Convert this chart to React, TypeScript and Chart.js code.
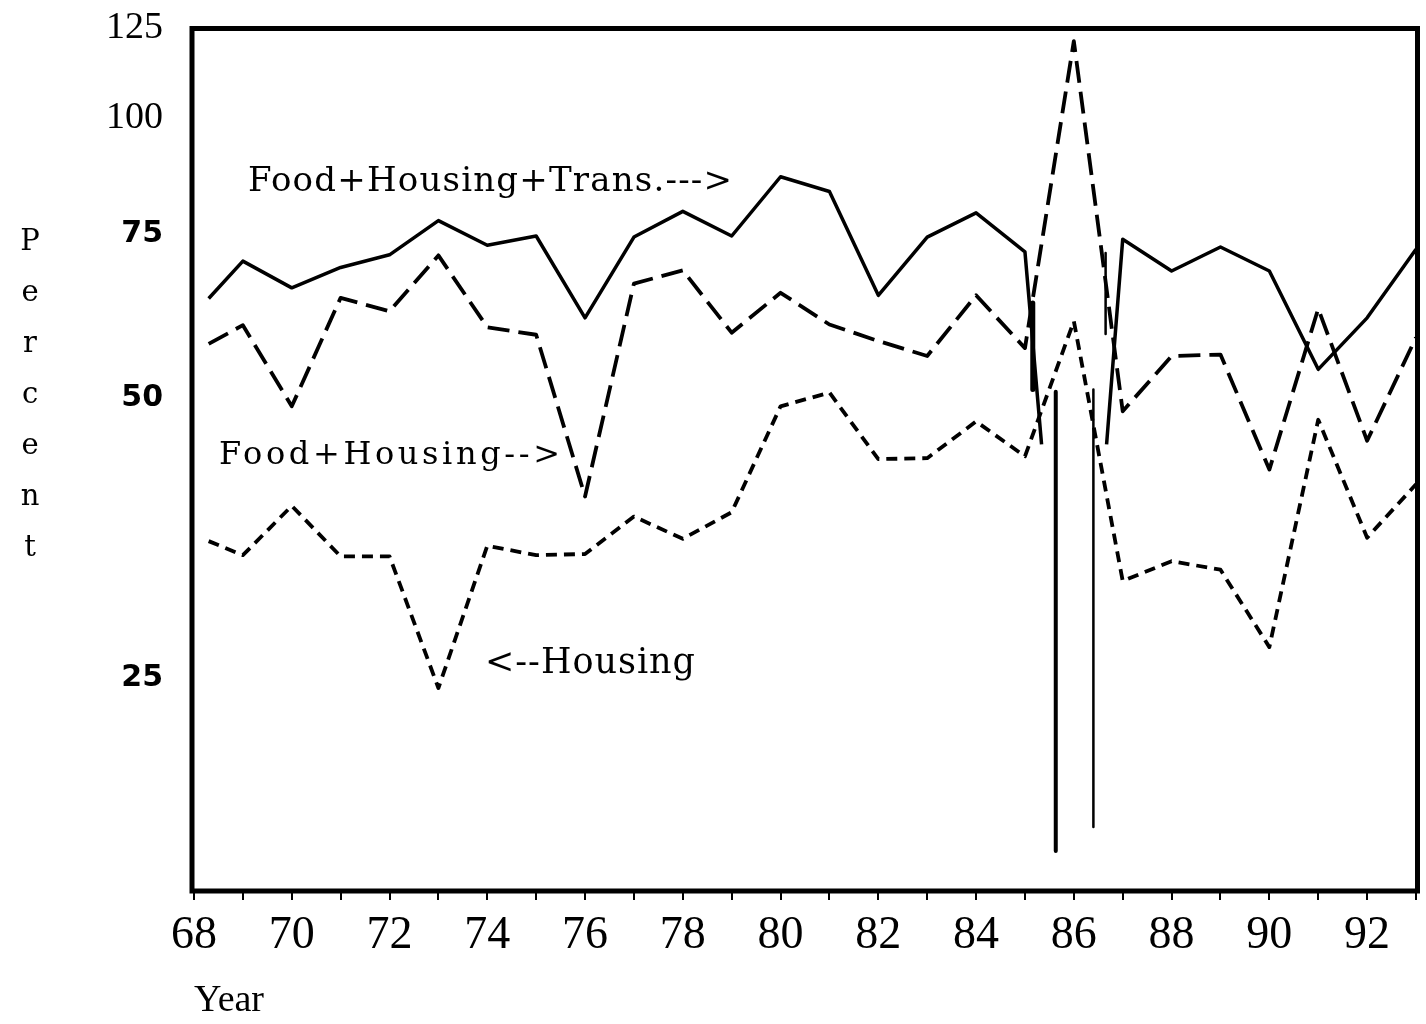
import { useEffect, useRef } from 'react';
import { Chart, registerables } from 'chart.js';

Chart.register(...registerables);

// ---- data ----
const totalYears = [68.3, 69, 70, 71, 72, 73, 74, 75, 76, 77, 78, 79, 80, 81, 82, 83, 84, 85, 85.34, 86, 86.67, 87, 88, 89, 90, 91, 92, 93];
const totalValues = [64.0, 70.2, 65.7, 69.1, 71.3, 77.6, 73.0, 74.7, 61.0, 74.5, 79.4, 74.7, 86.5, 83.4, 64.5, 74.5, 79.1, 71.8, 44.6, null, 44.6, 74.1, 68.5, 72.7, 68.5, 53.7, 61.0, 72.3];

const years = [68.3, 69, 70, 71, 72, 73, 74, 75, 76, 77, 78, 79, 80, 81, 82, 83, 84, 85, 86, 87, 88, 89, 90, 91, 92, 93];
const foodHousing = [57.2, 59.9, 49.0, 64.1, 62.0, 71.2, 59.6, 58.5, 39.2, 66.4, 68.6, 58.8, 64.9, 60.0, 57.6, 55.5, 64.5, 56.6, 121.0, 48.4, 55.5, 55.7, 41.9, 62.4, 45.0, 58.1];
const housing = [35.1, 33.9, 38.3, 33.8, 33.8, 24.4, 34.7, 33.9, 34.0, 37.3, 35.3, 37.7, 49.0, 50.7, 43.0, 43.1, 47.2, 43.3, 60.5, 31.8, 33.4, 32.7, 27.0, 47.4, 35.4, 40.4];

// stray vertical strokes around 1985-86 in the original plot
const glitchX = [85.16, 85.63, 86.40, 86.65];
const glitchTop = [63.3, 50.8, 51.1, 71.6];
const glitchBottom = [51.1, 16.3, 17.3, 58.6];

const xTickValues = [68, 69, 70, 71, 72, 73, 74, 75, 76, 77, 78, 79, 80, 81, 82, 83, 84, 85, 86, 87, 88, 89, 90, 91, 92, 93];
const xTickLabels = ['68', '70', '72', '74', '76', '78', '80', '82', '84', '86', '88', '90', '92'];
const yTickValues = [25, 50, 75, 100, 125];

const seriesLabels = ['Food+Housing+Trans.--->', 'Food+Housing-->', '<--Housing'];
const yTitle = 'Percent';
const xTitle = 'Year';

// ---- styles ----
const glitchWidths = [5, 4, 2.5, 2.5];

const pts = (xs: number[], ys: (number | null)[]) => xs.map((x, i) => ({ x, y: ys[i] }));

const decorPlugin = {
  id: 'decor',
  beforeDatasetsDraw(chart: any) {
    const { ctx, chartArea: ca } = chart;
    ctx.save();
    ctx.strokeStyle = '#000';
    ctx.lineWidth = 5;
    ctx.lineCap = 'square';
    ctx.beginPath();
    ctx.moveTo(ca.left - 2, ca.top + 0.5);
    ctx.lineTo(ca.right + 1.5, ca.top + 0.5);
    ctx.lineTo(ca.right + 1.5, ca.bottom + 1);
    ctx.lineTo(ca.left - 2, ca.bottom + 1);
    ctx.closePath();
    ctx.stroke();
    ctx.restore();
  },
  afterDraw(chart: any) {
    const { ctx } = chart;
    ctx.save();
    ctx.fillStyle = '#000';
    ctx.textBaseline = 'alphabetic';
    ctx.textAlign = 'left';
    const spaced = (text: string, font: string, left: number, right: number, base: number) => {
      ctx.font = font;
      (ctx as any).letterSpacing = '0px';
      const w0 = ctx.measureText(text).width;
      const s = (right - left - w0) / (text.length - 1);
      (ctx as any).letterSpacing = s + 'px';
      ctx.fillText(text, left, base);
      (ctx as any).letterSpacing = '0px';
    };
    spaced(seriesLabels[0], '34px "DejaVu Serif"', 248, 732, 191);
    spaced(seriesLabels[1], '32px "DejaVu Serif"', 219, 560, 464);
    spaced(seriesLabels[2], '35px "DejaVu Serif"', 485, 695, 673);

    ctx.font = '29px "DejaVu Serif"';
    ctx.textAlign = 'center';
    yTitle.split('').forEach((ch, i) => {
      ctx.fillText(ch, 30, 250 + i * 51);
    });
    ctx.restore();
  },
};

export default function App() {
  const ref = useRef<HTMLCanvasElement | null>(null);

  useEffect(() => {
    if (!ref.current) return;
    const lineBase = {
      borderColor: '#000',
      backgroundColor: '#000',
      pointRadius: 0,
      tension: 0,
      fill: false,
      spanGaps: false,
      borderCapStyle: 'butt' as const,
      borderJoinStyle: 'round' as const,
    };
    const glitchSets = glitchX.map((gx, i) => ({
      ...lineBase,
      label: 'stroke' + i,
      data: pts([gx, gx], [glitchTop[i], glitchBottom[i]]),
      borderWidth: glitchWidths[i],
    }));

    const chart = new Chart(ref.current, {
      type: 'line',
      data: {
        datasets: [
          { ...lineBase, label: seriesLabels[0], data: pts(totalYears, totalValues), borderWidth: 3.5 },
          { ...lineBase, label: seriesLabels[1], data: pts(years, foodHousing), borderWidth: 3.8, borderDash: [22, 9] },
          { ...lineBase, label: seriesLabels[2], data: pts(years, housing), borderWidth: 3.8, borderDash: [11, 7] },
          ...glitchSets,
        ],
      },
      options: {
        animation: false,
        responsive: false,
        devicePixelRatio: 1,
        layout: { padding: { left: 0, right: 10, top: 28, bottom: 0 } },
        plugins: {
          legend: { display: false },
          tooltip: { enabled: false },
          title: { display: false },
        },
        scales: {
          x: {
            type: 'linear',
            min: 68,
            max: 93,
            afterFit: (s: any) => { s.height = 134; s.paddingLeft = 0; s.paddingRight = 0; },
            afterBuildTicks: (s: any) => { s.ticks = xTickValues.map((v) => ({ value: v })); },
            ticks: {
              autoSkip: false,
              maxRotation: 0,
              color: '#000',
              padding: 8,
              font: { family: '"Liberation Serif"', size: 46 },
              callback: (v: any) => (xTickLabels.includes(String(v)) ? String(v) : ''),
            },
            grid: {
              display: true,
              drawOnChartArea: false,
              drawTicks: true,
              tickLength: 10,
              lineWidth: 2,
              color: '#000',
            },
            border: { display: false },
            title: {
              display: true,
              text: xTitle,
              align: 'start',
              color: '#000',
              font: { family: '"Liberation Serif"', size: 38 },
              padding: { top: 0, bottom: 0 },
            },
          },
          y: {
            type: 'logarithmic',
            min: 14.8,
            max: 125,
            afterFit: (s: any) => { s.width = 194; s.paddingTop = 0; s.paddingBottom = 0; },
            afterBuildTicks: (s: any) => { s.ticks = yTickValues.map((v) => ({ value: v })); },
            ticks: {
              color: '#000',
              padding: 31,
              font: (c: any) =>
                c.tick && c.tick.value >= 100
                  ? { family: '"Liberation Serif"', size: 38 }
                  : { family: '"DejaVu Sans"', size: 30, weight: 'bold' },
              callback: (v: any) => String(v),
            },
            grid: { display: false, drawTicks: false },
            border: { display: false },
          },
        },
      },
      plugins: [decorPlugin],
    } as any);
    return () => chart.destroy();
  }, []);

  return (
    <div style={{ position: 'absolute', left: 0, top: 0, width: 1426, height: 1024, background: '#fff' }}>
      <canvas ref={ref} width={1426} height={1024} style={{ display: 'block' }} />
    </div>
  );
}
